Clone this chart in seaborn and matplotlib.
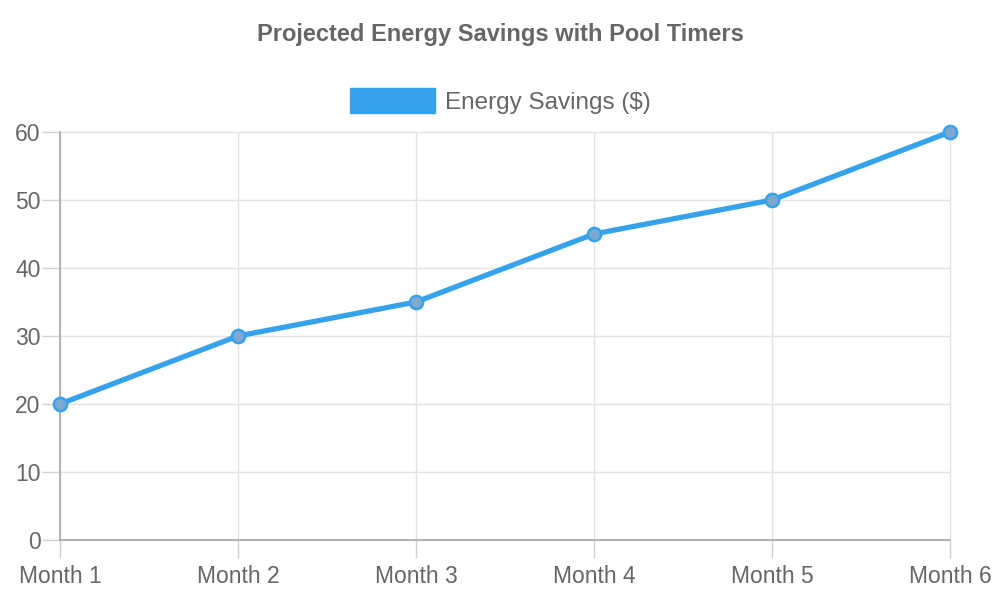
import matplotlib
matplotlib.use("Agg")
import matplotlib.pyplot as plt
from matplotlib.patches import Patch
import seaborn as sns
import pandas as pd

months = ["Month 1", "Month 2", "Month 3", "Month 4", "Month 5", "Month 6"]
savings = [20, 30, 35, 45, 50, 60]
series_label = "Energy Savings ($)"
title = "Projected Energy Savings with Pool Timers"
yticks = [0, 10, 20, 30, 40, 50, 60]

sns.set_theme(style="white")
plt.rcParams['font.family'] = ['Liberation Sans', 'DejaVu Sans']

blue = "#36A2EB"
text_c = "#666666"
grid_c = "#e3e3e3"
tick_c = "#d0d0d0"
axis_c = "#a8a8a8"

df = pd.DataFrame({"month": months, "savings": savings})

fig = plt.figure(figsize=(10, 6), dpi=100)
ax = fig.add_axes([0.06, 0.10, 0.89, 0.68])

sns.lineplot(data=df, x="month", y="savings", ax=ax, color=blue, linewidth=3.8,
             marker="o", markersize=9.5, markerfacecolor="#7fa8cf",
             markeredgecolor=blue, markeredgewidth=1.8, sort=False, clip_on=False, zorder=3)

ax.set_xlim(0, len(months) - 1)
ax.set_ylim(0, 60)
ax.set_yticks(yticks)
ax.set_xlabel("")
ax.set_ylabel("")

ax.grid(True, color=grid_c, linewidth=1)
ax.set_axisbelow(True)
for line in ax.get_xgridlines() + ax.get_ygridlines():
    line.set_clip_on(False)
for s in ["top", "right"]:
    ax.spines[s].set_visible(False)
for s in ["left", "bottom"]:
    ax.spines[s].set_color(axis_c)
    ax.spines[s].set_linewidth(1.2)

ax.tick_params(axis="both", bottom=True, left=True, colors=tick_c, length=13, width=1,
               labelcolor=text_c, labelsize=16.5)
ax.tick_params(axis="x", pad=5)
ax.tick_params(axis="y", pad=1)

fig.text(0.5, 0.943, title, ha="center", va="center", fontsize=17, fontweight="bold", color=text_c)

handle = Patch(facecolor=blue, edgecolor=blue)
fig.legend(handles=[handle], labels=[series_label], loc="center", bbox_to_anchor=(0.5, 0.832),
           frameon=False, fontsize=17.5, labelcolor=text_c, handlelength=3.5, handleheight=1.2,
           handletextpad=0.4)

fig.savefig("out.png", dpi=100)
